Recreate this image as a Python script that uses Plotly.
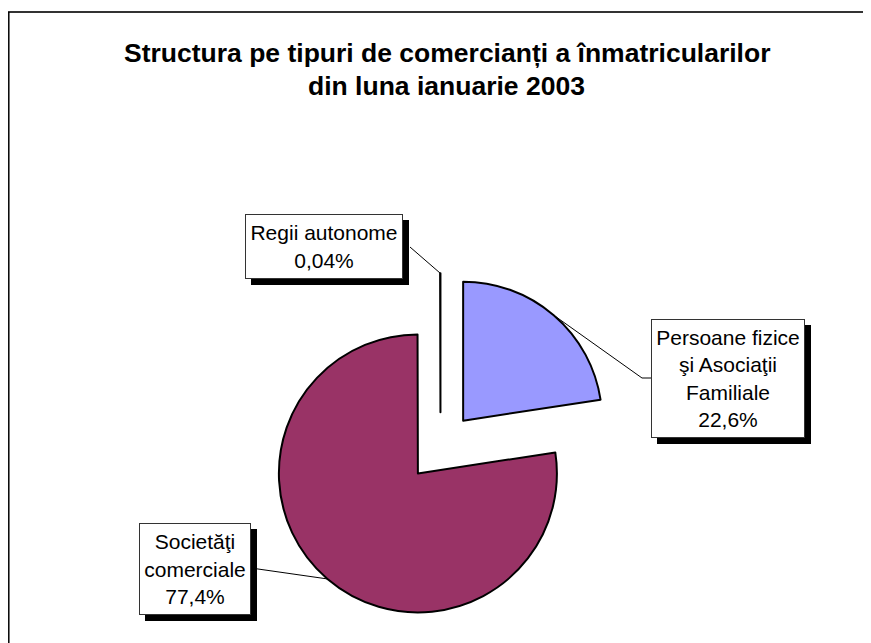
import math
import plotly.graph_objects as go

# ---- data ----
categories = ["Persoane fizice<br>şi Asociaţii<br>Familiale", "Societăţi<br>comerciale", "Regii autonome"]
values = [22.6, 77.4, 0.04]
value_labels = ["22,6%", "77,4%", "0,04%"]
colors = ["#9999FF", "#993366", "#993366"]
title_lines = ["Structura pe tipuri de comercianți a înmatricularilor", "din luna ianuarie 2003"]

W, H = 871, 643
OFF = 8  # page body margin
PULL = 0.25
# pie geometry (pixels in screenshot)
CX, CY, R = 440.5, 447.0, 139.0
half = R * (1 + PULL)

def px(x):
    return (x - OFF) / W

def py(y):
    return 1 - (y - OFF) / H

fig = go.Figure(go.Pie(
    labels=[c.replace("<br>", " ") for c in categories],
    values=values,
    sort=False,
    direction="clockwise",
    rotation=0,
    pull=[PULL] * len(values),
    marker=dict(colors=colors, line=dict(color="#000000", width=2)),
    textinfo="none",
    hoverinfo="label+percent",
    showlegend=False,
    domain=dict(x=[px(CX - half), px(CX + half)], y=[py(CY + half), py(CY - half)]),
))

# slice mid angles from data
total = sum(values)
mids = []
acc = 0.0
for v in values:
    mids.append((acc + v / 2) / total * 2 * math.pi)
    acc += v

def arc_point(i):
    t = mids[i]
    d = R * (1 + PULL)
    return CX + d * math.sin(t), CY - d * math.cos(t)

# label boxes (pixel): left, top, right, bottom
boxes = [(651, 319, 805, 438), (139, 523, 251, 615), (245, 214, 403, 279)]
# leader endpoints near boxes (pixel paths)
leader_ends = [[(642, 378), (651, 378)], [(251, 568)], [(410, 247)]]

shapes = []
annotations = []
SH = 6
for i, (l, t, r, b) in enumerate(boxes):
    shapes.append(dict(type="rect", xref="paper", yref="paper",
                       x0=px(l + SH), x1=px(r + SH), y0=py(b + SH), y1=py(t + SH),
                       fillcolor="#000000", line=dict(width=0), layer="above"))
    annotations.append(dict(
        xref="paper", yref="paper", x=px((l + r) / 2), y=py((t + b) / 2),
        xanchor="center", yanchor="middle", showarrow=False,
        text=categories[i] + "<br>" + value_labels[i],
        align="center", width=(r - l) - 2, height=(b - t) - 2,
        bgcolor="#FFFFFF", bordercolor="#333333", borderwidth=1, borderpad=0,
        font=dict(family="Liberation Sans, Arial", size=21, color="#000000"),
    ))
    pts = [arc_point(i)] + leader_ends[i]
    path = "M " + " L ".join(f"{px(x)},{py(y)}" for x, y in pts)
    shapes.append(dict(type="path", xref="paper", yref="paper", path=path,
                       line=dict(color="#000000", width=1), layer="above"))

# chart border (top and left visible)
shapes.append(dict(type="line", xref="paper", yref="paper", x0=px(8), x1=1, y0=py(12), y1=py(12),
                   line=dict(color="#333333", width=2)))
shapes.append(dict(type="line", xref="paper", yref="paper", x0=px(8.8), x1=px(8.8), y0=py(12), y1=0,
                   line=dict(color="#000000", width=1.5)))

for k, (txt, yc) in enumerate(zip(title_lines, [53, 86])):
    annotations.append(dict(
        xref="paper", yref="paper", x=px(446.5), y=py(yc), xanchor="center", yanchor="middle",
        showarrow=False, text=txt,
        font=dict(family="Liberation Sans, Arial", size=26.5, color="#000000", weight="bold"),
    ))

fig.update_layout(
    width=W, height=H, margin=dict(l=0, r=0, t=0, b=0),
    paper_bgcolor="#FFFFFF", plot_bgcolor="#FFFFFF",
    shapes=shapes, annotations=annotations,
)

fig.write_html("out.html")
